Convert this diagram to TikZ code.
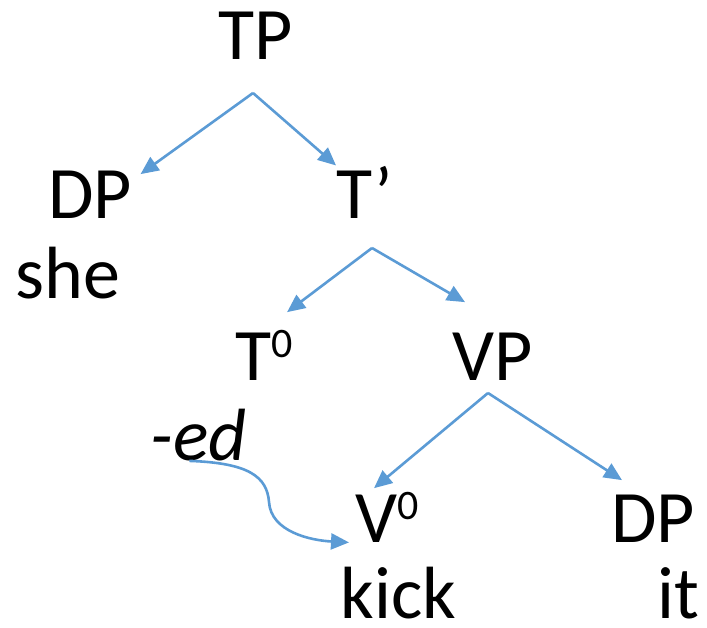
\documentclass[tikz,border=0pt]{standalone}
\usepackage{fontspec}
\setmainfont{Carlito}
\usetikzlibrary{calc,arrows.meta}
\definecolor{branchblue}{RGB}{91,155,213}
\tikzset{
  lbl/.style={anchor=base west,inner sep=0pt,font=\fontsize{37}{40}\selectfont},
  branch/.style={branchblue,line width=1.3pt,-{Triangle[length=9pt,width=8pt]}}
}
\newcommand\headzero{\raisebox{0.3em}{\fontsize{21}{21}\selectfont 0}}

\begin{document}
\begin{tikzpicture}[x=0.5pt,y=-0.5pt]
\useasboundingbox (0,0) rectangle (707,627);

% labels
\node[lbl] (tp) at (218,59) {TP};
\node[lbl] (dpa) at (48,218) {DP};
\node[lbl] (she) at (15,298) {she};
\node[lbl] (tbar) at (336,218) {T’};
\node[lbl] (t0) at (235,380) {T\headzero};
\node[lbl] (vp) at (452,380) {VP};
\node[lbl] (ed) at (150,460) {\itshape -ed};
\node[lbl] (v0) at (355,542) {V\headzero};
\node[lbl] (dpb) at (611,542) {DP};
\node[lbl] (kick) at (340,618) {kick};
\node[lbl] (it) at (657,618) {it};

% where the branches split
\coordinate (tpfoot) at (253,93);
\coordinate (tbarfoot) at (372,248);
\coordinate (vpfoot) at (488,393);

\draw[branch] (tpfoot) -- ($(dpa.north east)+(8,4)$);
\draw[branch] (tpfoot) -- (tbar.north west);
\draw[branch] (tbarfoot) -- ($(t0.north)+(23,-18)$);
\draw[branch] (tbarfoot) -- ($(vp.north west)+(13,-30)$);
\draw[branch] (vpfoot) -- ($(v0.north)+(-13,-4)$);
\draw[branch] (vpfoot) -- ($(dpb.north west)+(11,-14)$);

% affix lowering
\draw[branch] ($(ed.south)+(-9,0)$) .. controls +(60,2) and +(-2,-25) .. (269,502)
  .. controls +(2,30) and +(-38,-2) .. ($(v0.south west)+(-6,0)$);
\end{tikzpicture}
\end{document}
